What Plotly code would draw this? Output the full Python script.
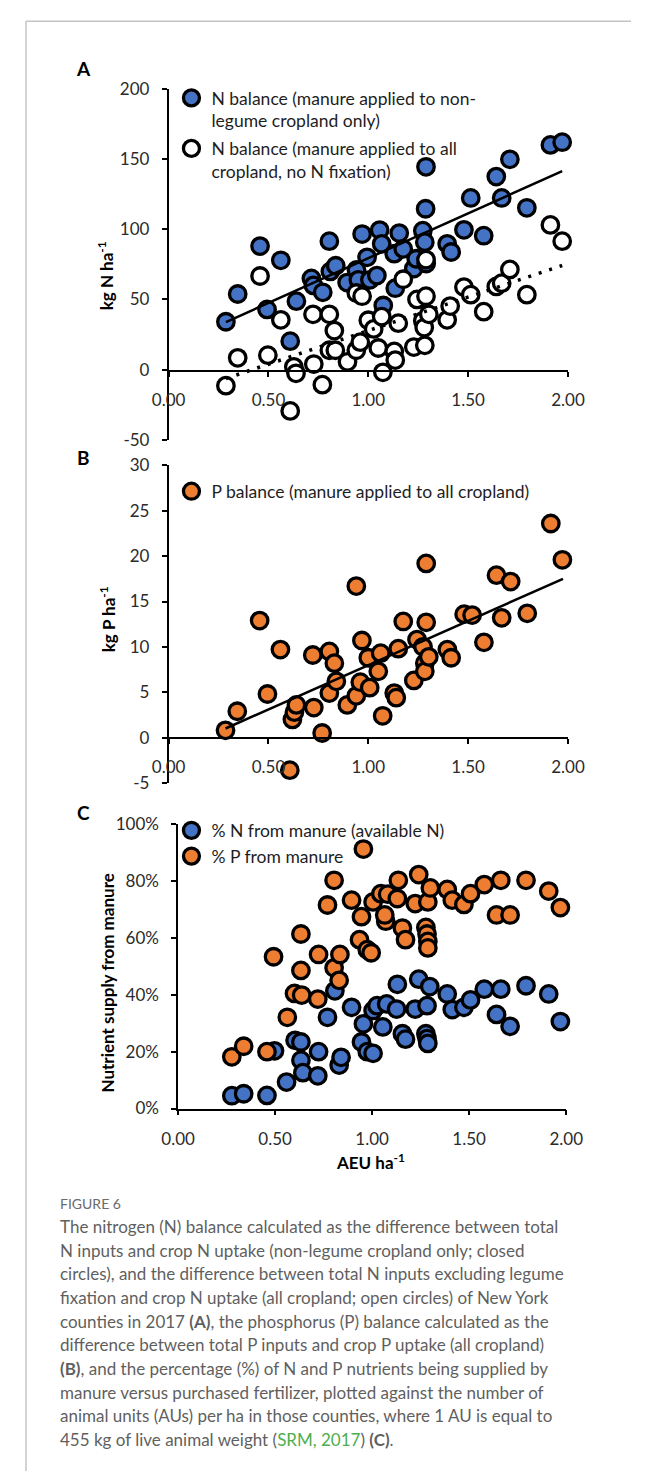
import plotly.graph_objects as go

W, H = 648, 1481

# ---------------- DATA ----------------
# Panel A: N balance, manure applied to non-legume cropland only (filled blue)
a_blue_x = [0.287, 0.346, 0.458, 0.493, 0.562, 0.609, 0.640, 0.715, 0.725, 0.772, 0.805, 0.810,
            0.837, 0.894, 0.941, 0.950, 0.969, 0.994, 1.008, 1.043, 1.057, 1.067, 1.075, 1.130,
            1.135, 1.155, 1.175, 1.228, 1.240, 1.273, 1.283, 1.287, 1.289, 1.290, 1.395, 1.415,
            1.479, 1.513, 1.578, 1.641, 1.668, 1.709, 1.794, 1.912, 1.971]
a_blue_y = [34.1, 53.9, 88.0, 42.9, 77.9, 20.3, 48.8, 65.0, 60.0, 55.1, 91.5, 70.0,
            74.0, 62.0, 71.0, 64.0, 96.6, 80.0, 64.0, 67.0, 99.4, 89.6, 45.7, 82.6,
            58.0, 97.3, 86.0, 72.0, 79.0, 99.0, 90.8, 114.6, 144.5, 75.6, 89.6, 83.8,
            99.6, 122.3, 95.4, 137.5, 122.3, 149.8, 115.3, 160.1, 162.0]

# Panel A: N balance, manure applied to all cropland, no N fixation (open)
a_open_x = [0.287, 0.346, 0.458, 0.497, 0.562, 0.609, 0.627, 0.638, 0.723, 0.727, 0.770, 0.805,
            0.805, 0.830, 0.835, 0.896, 0.940, 0.960, 0.940, 0.969, 1.000, 1.027, 1.050, 1.067,
            1.073, 1.130, 1.135, 1.150, 1.175, 1.228, 1.244, 1.273, 1.280, 1.283, 1.289, 1.289,
            1.303, 1.395, 1.410, 1.479, 1.513, 1.578, 1.641, 1.668, 1.709, 1.794, 1.912, 1.971]
a_open_y = [-11.4, 8.4, 66.7, 10.3, 35.5, -29.4, 2.0, -2.6, 39.4, 4.0, -10.7, 39.4,
            13.8, 27.8, 13.8, 5.6, 13.8, 19.6, 54.6, 52.3, 35.2, 29.0, 15.4, 37.8,
            -1.9, 13.0, 6.8, 33.1, 64.4, 16.1, 50.0, 34.8, 30.0, 17.3, 78.4, 52.3,
            39.4, 35.5, 45.3, 58.8, 53.4, 41.3, 59.3, 61.6, 71.4, 53.4, 103.1, 91.5]

# Panel A trend lines (end points)
a_blue_trend_x = [0.287, 1.971]
a_blue_trend_y = [33.9, 141.4]
a_open_trend_x = [0.287, 1.971]
a_open_trend_y = [-6.3, 74.2]

# Panel B: P balance (manure applied to all cropland)
b_x = [0.285, 0.344, 0.456, 0.495, 0.560, 0.607, 0.620, 0.630, 0.640, 0.722, 0.727, 0.769,
       0.805, 0.805, 0.830, 0.840, 0.895, 0.940, 0.940, 0.960, 0.968, 1.000, 1.007, 1.050,
       1.062, 1.072, 1.130, 1.140, 1.150, 1.175, 1.228, 1.244, 1.274, 1.283, 1.283, 1.290,
       1.290, 1.303, 1.396, 1.415, 1.480, 1.520, 1.579, 1.642, 1.668, 1.713, 1.796, 1.914, 1.972]
b_y = [0.8, 2.9, 12.9, 4.8, 9.7, -3.6, 2.0, 2.8, 3.6, 9.1, 3.3, 0.5,
       9.5, 4.9, 8.2, 6.2, 3.6, 16.7, 4.6, 6.1, 10.7, 8.8, 5.5, 7.3,
       9.3, 2.4, 4.9, 4.4, 9.8, 12.8, 6.3, 10.8, 10.0, 8.2, 7.3, 19.2,
       12.7, 8.9, 9.7, 8.8, 13.6, 13.5, 10.5, 17.9, 13.2, 17.2, 13.7, 23.6, 19.6]
b_trend_x = [0.285, 1.975]
b_trend_y = [1.0, 17.5]

# Panel C: % N from manure (available N)
c_n_x = [0.277, 0.338, 0.458, 0.497, 0.559, 0.603, 0.633, 0.633, 0.643, 0.724, 0.720, 0.770,
         0.808, 0.830, 0.840, 0.894, 0.945, 0.955, 0.975, 1.005, 1.005, 1.025, 1.055, 1.075,
         1.126, 1.130, 1.156, 1.172, 1.222, 1.240, 1.277, 1.283, 1.287, 1.283, 1.297, 1.387,
         1.413, 1.473, 1.507, 1.578, 1.641, 1.663, 1.711, 1.793, 1.910, 1.970]
c_n_y = [0.045, 0.052, 0.046, 0.203, 0.093, 0.240, 0.234, 0.170, 0.126, 0.200, 0.115, 0.321,
         0.414, 0.153, 0.180, 0.356, 0.234, 0.298, 0.200, 0.194, 0.345, 0.362, 0.287, 0.368,
         0.350, 0.437, 0.263, 0.244, 0.350, 0.455, 0.263, 0.246, 0.229, 0.362, 0.429, 0.403,
         0.348, 0.356, 0.382, 0.420, 0.331, 0.420, 0.289, 0.432, 0.403, 0.306]

# Panel C: % P from manure
c_p_x = [0.277, 0.338, 0.458, 0.492, 0.563, 0.600, 0.637, 0.633, 0.633, 0.720, 0.724, 0.770,
         0.804, 0.804, 0.830, 0.834, 0.894, 0.935, 0.975, 0.995, 0.945, 0.955, 1.005, 1.045,
         1.070, 1.065, 1.080, 1.135, 1.130, 1.156, 1.172, 1.222, 1.240, 1.277, 1.283, 1.287,
         1.287, 1.287, 1.300, 1.387, 1.413, 1.473, 1.507, 1.578, 1.641, 1.663, 1.711, 1.793,
         1.910, 1.970]
c_p_y = [0.182, 0.219, 0.200, 0.534, 0.321, 0.405, 0.399, 0.486, 0.614, 0.385, 0.542, 0.716,
         0.803, 0.495, 0.451, 0.542, 0.733, 0.594, 0.559, 0.548, 0.675, 0.913, 0.727, 0.756,
         0.659, 0.681, 0.754, 0.803, 0.739, 0.635, 0.594, 0.721, 0.823, 0.637, 0.614, 0.588,
         0.565, 0.727, 0.776, 0.771, 0.733, 0.718, 0.756, 0.788, 0.681, 0.803, 0.681, 0.803,
         0.765, 0.707]

# Tick values and labels
x_ticks = [0.0, 0.5, 1.0, 1.5, 2.0]
x_ticktext = ["0.00", "0.50", "1.00", "1.50", "2.00"]
a_yticks = [-50, 0, 50, 100, 150, 200]
a_yticktext = ["-50", "0", "50", "100", "150", "200"]
b_yticks = [-5, 0, 5, 10, 15, 20, 25, 30]
b_yticktext = ["-5", "0", "5", "10", "15", "20", "25", "30"]
c_yticks = [0, 0.2, 0.4, 0.6, 0.8, 1.0]
c_yticktext = ["0%", "20%", "40%", "60%", "80%", "100%"]

# ---------------- STYLE ----------------
BLUE = "#4472C4"
ORANGE = "#ED7D31"
FONT = "Lato"
TICKC = "#2b2b2b"
MS = 16.5
MLW = 3.3


def px(x):
    return x / W


def py(y):
    return 1 - y / H


fig = go.Figure()

mk = dict(size=MS, line=dict(color="black", width=MLW))

# Panel A
fig.add_trace(go.Scatter(x=a_blue_x, y=a_blue_y, mode="markers", xaxis="x", yaxis="y",
                         marker=dict(color=BLUE, **mk), cliponaxis=False,
                         name="N balance (manure applied to non-<br>legume cropland only)",
                         legend="legend", legendgroup="a1"))
fig.add_trace(go.Scatter(x=a_open_x, y=a_open_y, mode="markers", xaxis="x", yaxis="y",
                         marker=dict(color="white", **mk), cliponaxis=False,
                         name="N balance (manure applied to all<br>cropland, no N fixation)",
                         legend="legend", legendgroup="a2"))
fig.add_trace(go.Scatter(x=a_blue_trend_x, y=a_blue_trend_y, mode="lines", xaxis="x", yaxis="y",
                         line=dict(color="black", width=2.5), showlegend=False, cliponaxis=False))
fig.add_trace(go.Scatter(x=a_open_trend_x, y=a_open_trend_y, mode="lines", xaxis="x", yaxis="y",
                         line=dict(color="black", width=3.5, dash="3px,8px"), showlegend=False,
                         cliponaxis=False))

# Panel B
fig.add_trace(go.Scatter(x=b_x, y=b_y, mode="markers", xaxis="x2", yaxis="y2",
                         marker=dict(color=ORANGE, **mk), cliponaxis=False,
                         name="P balance (manure applied to all cropland)", legend="legend2"))
fig.add_trace(go.Scatter(x=b_trend_x, y=b_trend_y, mode="lines", xaxis="x2", yaxis="y2",
                         line=dict(color="black", width=2.5), showlegend=False, cliponaxis=False))

# Panel C
fig.add_trace(go.Scatter(x=c_n_x, y=c_n_y, mode="markers", xaxis="x3", yaxis="y3",
                         marker=dict(color=BLUE, **mk), cliponaxis=False,
                         name="% N from manure (available N)", legend="legend3"))
fig.add_trace(go.Scatter(x=c_p_x, y=c_p_y, mode="markers", xaxis="x3", yaxis="y3",
                         marker=dict(color=ORANGE, **mk), cliponaxis=False,
                         name="% P from manure", legend="legend3"))

tickfont = dict(family=FONT, size=17, color=TICKC)
common_x = dict(range=[0, 2], tickvals=x_ticks, ticktext=x_ticktext, showline=True,
                linecolor="black", linewidth=1.5, ticks="outside", ticklen=5, tickcolor="black",
                tickwidth=1.5, showgrid=False, zeroline=False, tickfont=tickfont,
                fixedrange=True, ticklabelstandoff=9)
common_y = dict(showline=True, linecolor="black", linewidth=1.5, ticks="outside", ticklen=5,
                tickcolor="black", tickwidth=1.5, showgrid=False, zeroline=False,
                tickfont=tickfont, fixedrange=True, ticklabelstandoff=9)

dom_ab = [px(160), px(581.5)]
dom_c = [px(170), px(579.6)]

legend_common = dict(bgcolor="rgba(0,0,0,0)", borderwidth=0, xanchor="left", yanchor="top",
                     font=dict(family=FONT, size=17.5, color="#1e1e1e"), valign="top",
                     itemclick=False, itemdoubleclick=False)

fig.update_layout(
    width=W, height=H, margin=dict(l=0, r=0, t=0, b=0),
    paper_bgcolor="white", plot_bgcolor="rgba(0,0,0,0)",
    showlegend=True,
    xaxis=dict(domain=dom_ab, anchor="free", position=py(365), **common_x),
    yaxis=dict(domain=[py(435), py(79)], range=[-50, 200], tickvals=a_yticks,
               ticktext=a_yticktext, anchor="x", **common_y),
    xaxis2=dict(domain=dom_ab, anchor="free", position=py(737.3), **common_x),
    yaxis2=dict(domain=[py(783), py(461)], range=[-5, 30], tickvals=b_yticks,
                ticktext=b_yticktext, anchor="x2", **common_y),
    xaxis3=dict(domain=dom_c, anchor="y3", **common_x),
    yaxis3=dict(domain=[py(1113.3), py(825)], range=[0, 1], tickvals=c_yticks,
                ticktext=c_yticktext, anchor="x3", **common_y),
    legend=dict(x=px(163), y=py(70), tracegroupgap=2, **legend_common),
    legend2=dict(x=px(163), y=py(469), **legend_common),
    legend3=dict(x=px(163), y=py(813), tracegroupgap=0, **legend_common),
)

ann = []
# panel letters
for letter, yy in [("A", 58), ("B", 453), ("C", 813)]:
    ann.append(dict(text="<b>%s</b>" % letter, x=px(70), y=py(yy), xref="paper", yref="paper",
                    showarrow=False, xanchor="center", yanchor="middle",
                    font=dict(family=FONT, size=19, color="black")))
# axis titles
for t, xx, yy in [("<b>kg N ha<sup>-1</sup></b>", 93, 269),
                  ("<b>kg P ha<sup>-1</sup></b>", 95, 617),
                  ("<b>Nutrient supply from manure</b>", 96, 985.5)]:
    ann.append(dict(text=t, x=px(xx), y=py(yy), xref="paper", yref="paper", showarrow=False,
                    textangle=-90, xanchor="center", yanchor="middle",
                    font=dict(family=FONT, size=17, color="black")))
ann.append(dict(text="<b>AEU ha<sup>-1</sup></b>", x=px(373), y=py(1167), xref="paper",
                yref="paper", showarrow=False, xanchor="center", yanchor="middle",
                font=dict(family=FONT, size=17, color="black")))

# caption
CAPC = "#5f5f5f"
ann.append(dict(text="FIGURE 6", x=px(43), y=py(1210), xref="paper", yref="paper",
                showarrow=False, xanchor="left", yanchor="middle",
                font=dict(family=FONT, size=14, color="#6a6a6a")))
caption_lines = [
    "The nitrogen (N) balance calculated as the difference between total",
    "N inputs and crop N uptake (non-legume cropland only; closed",
    "circles), and the difference between total N inputs excluding legume",
    "fixation and crop N uptake (all cropland; open circles) of New York",
    "counties in 2017 <b>(A)</b>, the phosphorus (P) balance calculated as the",
    "difference between total P inputs and crop P uptake (all cropland)",
    "<b>(B)</b>, and the percentage (%) of N and P nutrients being supplied by",
    "manure versus purchased fertilizer, plotted against the number of",
    "animal units (AUs) per ha in those counties, where 1 AU is equal to",
    "455 kg of live animal weight (<span style='color:#4CAF50'>SRM, 2017</span>) <b>(C)</b>.",
]
for i, line in enumerate(caption_lines):
    ann.append(dict(text=line, x=px(43), y=py(1233 + 24 * i), xref="paper", yref="paper",
                    showarrow=False, xanchor="left", yanchor="middle",
                    font=dict(family=FONT, size=17, color=CAPC)))
fig.update_layout(annotations=ann)

# frame lines
fig.update_layout(shapes=[
    dict(type="line", xref="paper", yref="paper", x0=px(9.5), x1=1, y0=py(10.5), y1=py(10.5),
         line=dict(color="#c4c4c4", width=1.5)),
    dict(type="line", xref="paper", yref="paper", x0=px(9.5), x1=px(9.5), y0=py(10.5), y1=0,
         line=dict(color="#c4c4c4", width=1.5)),
])

fig.write_html("out.html", config={"displayModeBar": False},
               post_script="document.body.style.margin='0';document.body.style.overflow='hidden';")
